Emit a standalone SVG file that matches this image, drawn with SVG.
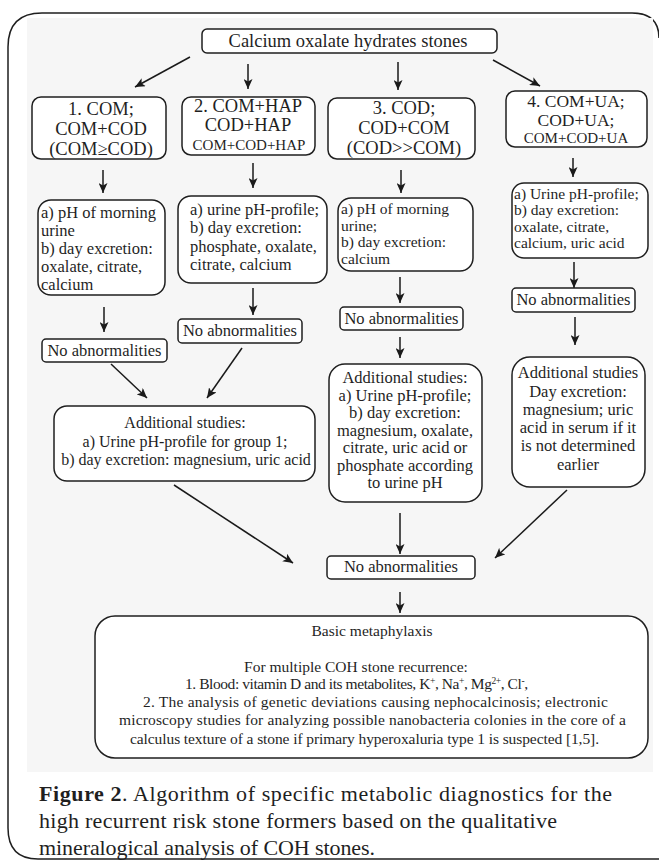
<svg xmlns="http://www.w3.org/2000/svg" width="659" height="861" viewBox="0 0 659 861">
<defs>
<marker id="ah" markerUnits="userSpaceOnUse" markerWidth="11" markerHeight="9" refX="10" refY="4.5" orient="auto">
<path d="M0,0 L10,4.5 L0,9 L2.5,4.5 z" fill="#1a1a1a"/>
</marker>
</defs>
<style>
.box{fill:#fff;stroke:#1f1f1f;stroke-width:1.5}
.t{font-family:"Liberation Serif","Times New Roman",serif;fill:#1f1f1f}
.big{font-size:18.5px}
.b2{font-size:17.5px}
.mid{font-size:16.5px}
.md2{font-size:16px}
.s15{font-size:15.5px}
.sm{font-size:15px}
.xs{font-size:15.5px}
.x2{font-size:14.5px}
.c{text-anchor:middle}
.cap{font-size:22px}
#connectors line{stroke:#1a1a1a;stroke-width:1.5;marker-end:url(#ah)}
</style>
<rect x="0" y="0" width="659" height="861" fill="#fff"/>
<path d="M659,38 Q659,13 632,13 L42,13 Q8,13 8,47 L8,828 Q8,859 38,859 L659,859" fill="none" stroke="#1f1f1f" stroke-width="1.5"/>
<rect x="27" y="18" width="626" height="754" fill="#f6f6f6"/>

<g id="connectors">
<line x1="190" y1="57" x2="135" y2="87"/>
<line x1="248" y1="64" x2="248" y2="89"/>
<line x1="398" y1="62" x2="398" y2="90"/>
<line x1="493" y1="60" x2="540" y2="86"/>
<line x1="103" y1="170" x2="103" y2="193"/>
<line x1="253" y1="163" x2="253" y2="188"/>
<line x1="401" y1="170" x2="401" y2="193"/>
<line x1="573" y1="158" x2="573" y2="177"/>
<line x1="104" y1="307" x2="104" y2="332"/>
<line x1="253" y1="288" x2="253" y2="315"/>
<line x1="400" y1="277" x2="400" y2="303"/>
<line x1="574" y1="262" x2="574" y2="288"/>
<line x1="111" y1="364" x2="147" y2="398"/>
<line x1="242" y1="348" x2="207" y2="398"/>
<line x1="400" y1="337" x2="400" y2="358"/>
<line x1="575" y1="317" x2="575" y2="345"/>
<line x1="174" y1="485" x2="293" y2="563"/>
<line x1="400" y1="513" x2="400" y2="554"/>
<line x1="567" y1="490" x2="495" y2="558"/>
<line x1="400" y1="592" x2="400" y2="613"/>
</g>

<g id="top">
<rect class="box" x="202" y="29" width="295" height="24" rx="5"/>
<text class="t big c" x="348" y="47">Calcium oxalate hydrates stones</text>
</g>

<g id="g1">
<rect class="box" x="32" y="97" width="134" height="62" rx="9"/>
<text class="t big c" x="101" y="115">1. COM;</text>
<text class="t big c" x="101" y="135">COM+COD</text>
<text class="t big c" x="101" y="155">(COM≥COD)</text>
</g>
<g id="g2">
<rect class="box" x="182" y="97" width="133" height="58" rx="9"/>
<text class="t big c" x="248" y="112">2. COM+HAP</text>
<text class="t big c" x="248" y="131">COD+HAP</text>
<text class="t sm c" x="249" y="150">COM+COD+HAP</text>
</g>
<g id="g3">
<rect class="box" x="328" y="98" width="147" height="61" rx="9"/>
<text class="t big c" x="404" y="114">3. COD;</text>
<text class="t big c" x="404" y="134">COD+COM</text>
<text class="t big c" x="404" y="154">(COD&gt;&gt;COM)</text>
</g>
<g id="g4">
<rect class="box" x="506" y="91" width="141" height="56" rx="9"/>
<text class="t b2 c" x="576" y="107">4. COM+UA;</text>
<text class="t b2 c" x="576" y="125.5">COD+UA;</text>
<text class="t sm c" x="576" y="143">COM+COD+UA</text>
</g>

<g id="s1">
<rect class="box" x="38" y="200" width="127" height="95" rx="13"/>
<text class="t mid" x="41" y="218">a) pH of morning</text>
<text class="t mid" x="41" y="236">urine</text>
<text class="t mid" x="41" y="254">b) day excretion:</text>
<text class="t mid" x="41" y="272">oxalate, citrate,</text>
<text class="t mid" x="41" y="290">calcium</text>
</g>
<g id="s2">
<rect class="box" x="178" y="196" width="149" height="87" rx="13"/>
<text class="t mid" x="190" y="215">a) urine pH-profile;</text>
<text class="t mid" x="190" y="233">b) day excretion:</text>
<text class="t mid" x="190" y="252">phosphate, oxalate,</text>
<text class="t mid" x="190" y="270">citrate, calcium</text>
</g>
<g id="s3">
<rect class="box" x="338" y="198" width="135" height="73" rx="13"/>
<text class="t s15" x="341" y="214">a) pH of morning</text>
<text class="t s15" x="341" y="230.5">urine;</text>
<text class="t s15" x="341" y="247">b) day excretion:</text>
<text class="t s15" x="341" y="263.5">calcium</text>
</g>
<g id="s4">
<rect class="box" x="512" y="183" width="136" height="75" rx="12"/>
<text class="t s15" x="514" y="198.5">a) Urine pH-profile;</text>
<text class="t s15" x="514" y="215">b) day excretion:</text>
<text class="t s15" x="514" y="231.5">oxalate, citrate,</text>
<text class="t s15" x="514" y="248">calcium, uric acid</text>
</g>

<g id="n1">
<rect class="box" x="42" y="339" width="125" height="23" rx="4"/>
<text class="t mid c" x="104.5" y="356">No abnormalities</text>
</g>
<g id="n2">
<rect class="box" x="178" y="319" width="124" height="24" rx="4"/>
<text class="t mid c" x="240" y="336">No abnormalities</text>
</g>
<g id="n3">
<rect class="box" x="340" y="307" width="123" height="23" rx="4"/>
<text class="t mid c" x="401.5" y="324">No abnormalities</text>
</g>
<g id="n4">
<rect class="box" x="512" y="288" width="123" height="24" rx="4"/>
<text class="t mid c" x="573.5" y="305">No abnormalities</text>
</g>

<g id="a12">
<rect class="box" x="54" y="406" width="261" height="75" rx="13"/>
<text class="t md2 c" x="185" y="428">Additional studies:</text>
<text class="t md2 c" x="185" y="447">a) Urine pH-profile for group 1;</text>
<text class="t md2 c" x="186" y="465">b) day excretion: magnesium, uric acid</text>
</g>
<g id="a3">
<rect class="box" x="329" y="364" width="153" height="138" rx="16"/>
<text class="t mid c" x="405" y="383">Additional studies:</text>
<text class="t mid c" x="405" y="400.5">a) Urine pH-profile;</text>
<text class="t mid c" x="405" y="418">b) day excretion:</text>
<text class="t mid c" x="405" y="435.5">magnesium, oxalate,</text>
<text class="t mid c" x="405" y="453">citrate, uric acid or</text>
<text class="t mid c" x="405" y="470.5">phosphate according</text>
<text class="t mid c" x="405" y="488">to urine pH</text>
</g>
<g id="a4">
<rect class="box" x="512" y="357" width="133" height="130" rx="18"/>
<text class="t mid c" x="578" y="378">Additional studies</text>
<text class="t mid c" x="578" y="396.5">Day excretion:</text>
<text class="t mid c" x="578" y="415">magnesium; uric</text>
<text class="t mid c" x="578" y="433">acid in serum if it</text>
<text class="t mid c" x="578" y="451">is not determined</text>
<text class="t mid c" x="578" y="470">earlier</text>
</g>

<g id="nf">
<rect class="box" x="327" y="556" width="148" height="23" rx="4"/>
<text class="t mid c" x="401" y="572">No abnormalities</text>
</g>

<g id="basic">
<rect class="box" x="95" y="616" width="553" height="142" rx="20"/>
<text class="t xs c" x="372" y="636">Basic metaphylaxis</text>
<text class="t xs c" x="356" y="672">For multiple COH stone recurrence:</text>
<text class="t xs c" x="356.5" y="689" textLength="343">1. Blood: vitamin D and its metabolites, K<tspan baseline-shift="super" font-size="9.5">+</tspan>, Na<tspan baseline-shift="super" font-size="9.5">+</tspan>, Mg<tspan baseline-shift="super" font-size="9.5">2+</tspan>, Cl<tspan baseline-shift="super" font-size="9.5">-</tspan>,</text>
<text class="t xs c" x="375.5" y="707" textLength="465">2. The analysis of genetic deviations causing nephocalcinosis; electronic</text>
<text class="t xs c" x="372.5" y="725" textLength="507">microscopy studies for analyzing possible nanobacteria colonies in the core of a</text>
<text class="t xs c" x="364.5" y="744" textLength="469">calculus texture of a stone if primary hyperoxaluria type 1 is suspected [1,5].</text>
</g>

<g id="caption">
<text class="t cap" x="39" y="801" textLength="573"><tspan font-weight="bold">Figure 2</tspan>. Algorithm of specific metabolic diagnostics for the</text>
<text class="t cap" x="39" y="828" textLength="518">high recurrent risk stone formers based on the qualitative</text>
<text class="t cap" x="39" y="855" textLength="336">mineralogical analysis of COH stones.</text>
</g>
</svg>
